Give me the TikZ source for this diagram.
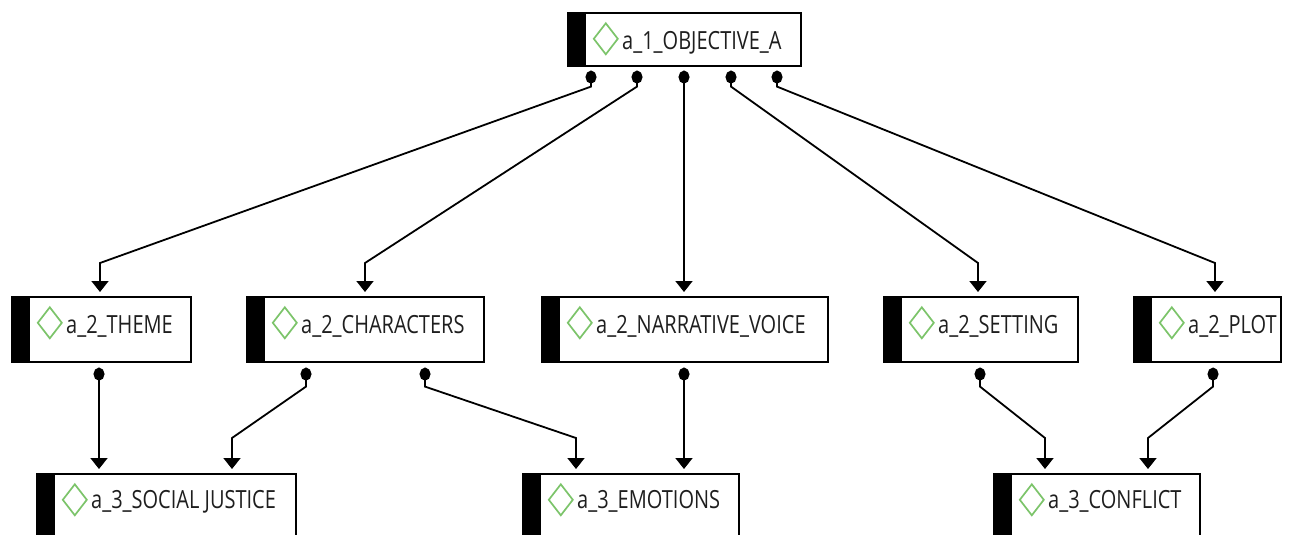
\documentclass[tikz,border=0pt]{standalone}
\usepackage{fontspec}
\setmainfont{Open Sans}[FakeStretch=0.8]
\usetikzlibrary{calc,arrows.meta}
\definecolor{dgreen}{HTML}{7CC46A}
\definecolor{txt}{HTML}{1E1E1E}
\begin{document}
\begin{tikzpicture}[x=1pt,y=-1pt,
  box/.style={draw, line width=1.6pt, anchor=north west, inner sep=0pt,
    path picture={
      \fill[black] (path picture bounding box.north west) rectangle ([xshift=18pt]path picture bounding box.south west);
      \draw[dgreen, line width=1.7pt] ([xshift=26pt,yshift=-26pt]path picture bounding box.north west) -- ++(12pt,15.5pt) -- ++(12pt,-15.5pt) -- ++(-12pt,-15.5pt) -- cycle;
    }},
  lbl/.style={anchor=base west, inner sep=0pt, font=\fontsize{25}{30}\selectfont, text=txt},
  conn/.style={line width=1.8pt, {Circle[length=13pt,width=11pt]}-{Triangle[length=11pt,width=17pt]}, shorten >=4pt}
]
\clip (0,0) rectangle (1294,535);
\fill[white] (0,0) rectangle (1294,535);

% level 1
\node[box, minimum width=233pt, minimum height=53pt] (T) at (567,12) {};
% level 2
\node[box, minimum width=179pt, minimum height=65pt] (theme) at (11,296) {};
\node[box, minimum width=237pt, minimum height=65pt] (char) at (246,296) {};
\node[box, minimum width=286pt, minimum height=65pt] (narr) at (541,296) {};
\node[box, minimum width=194pt, minimum height=65pt] (set) at (883,296) {};
\node[box, minimum width=147pt, minimum height=65pt] (plot) at (1133,296) {};
% level 3
\node[box, minimum width=259pt, minimum height=80pt] (soc) at (36,473) {};
\node[box, minimum width=216pt, minimum height=80pt] (emo) at (522,473) {};
\node[box, minimum width=206pt, minimum height=80pt] (conf) at (993,473) {};

% labels
\node[lbl] (Tl) at ($(T.north west)+(55,38)$) {a\_1\_OBJECTIVE\_A};
\node[lbl] (themel) at ($(theme.north west)+(55,37)$) {a\_2\_THEME};
\node[lbl] (charl) at ($(char.north west)+(55,37)$) {a\_2\_CHARACTERS};
\node[lbl] (narrl) at ($(narr.north west)+(55,37)$) {a\_2\_NARRATIVE\_VOICE};
\node[lbl] (setl) at ($(set.north west)+(55,37)$) {a\_2\_SETTING};
\node[lbl] (plotl) at ($(plot.north west)+(55,37)$) {a\_2\_PLOT};
\node[lbl] (socl) at ($(soc.north west)+(55,35)$) {a\_3\_SOCIAL JUSTICE};
\node[lbl] (emol) at ($(emo.north west)+(55,35)$) {a\_3\_EMOTIONS};
\node[lbl] (confl) at ($(conf.north west)+(55,35)$) {a\_3\_CONFLICT};

% level 1 -> level 2
\draw[conn] ($(T.south west)+(24,4)$) -- ($(T.south west)+(24,20)$) -- ($(theme.north west)+(89,-33)$) -- ($(theme.north west)+(89,0)$);
\draw[conn] ($(T.south west)+(70,4)$) -- ($(T.south west)+(70,20)$) -- ($(char.north west)+(119,-33)$) -- ($(char.north west)+(119,0)$);
\draw[conn] ($(T.south west)+(117,4)$) -- ($(narr.north west)+(143,0)$);
\draw[conn] ($(T.south west)+(164,4)$) -- ($(T.south west)+(164,20)$) -- ($(set.north west)+(95,-33)$) -- ($(set.north west)+(95,0)$);
\draw[conn] ($(T.south west)+(210,4)$) -- ($(T.south west)+(210,20)$) -- ($(plot.north west)+(82,-33)$) -- ($(plot.north west)+(82,0)$);

% level 2 -> level 3
\draw[conn] ($(theme.south west)+(88,5)$) -- ($(soc.north west)+(63,0)$);
\draw[conn] ($(char.south west)+(60,5)$) -- ($(char.south west)+(60,24)$) -- ($(soc.north west)+(196,-35)$) -- ($(soc.north west)+(196,0)$);
\draw[conn] ($(char.south west)+(179,5)$) -- ($(char.south west)+(179,24)$) -- ($(emo.north west)+(54,-35)$) -- ($(emo.north west)+(54,0)$);
\draw[conn] ($(narr.south west)+(143,5)$) -- ($(emo.north west)+(162,0)$);
\draw[conn] ($(set.south west)+(97,5)$) -- ($(set.south west)+(97,24)$) -- ($(conf.north west)+(52,-35)$) -- ($(conf.north west)+(52,0)$);
\draw[conn] ($(plot.south west)+(80,5)$) -- ($(plot.south west)+(80,24)$) -- ($(conf.north west)+(155,-35)$) -- ($(conf.north west)+(155,0)$);
\end{tikzpicture}
\end{document}
